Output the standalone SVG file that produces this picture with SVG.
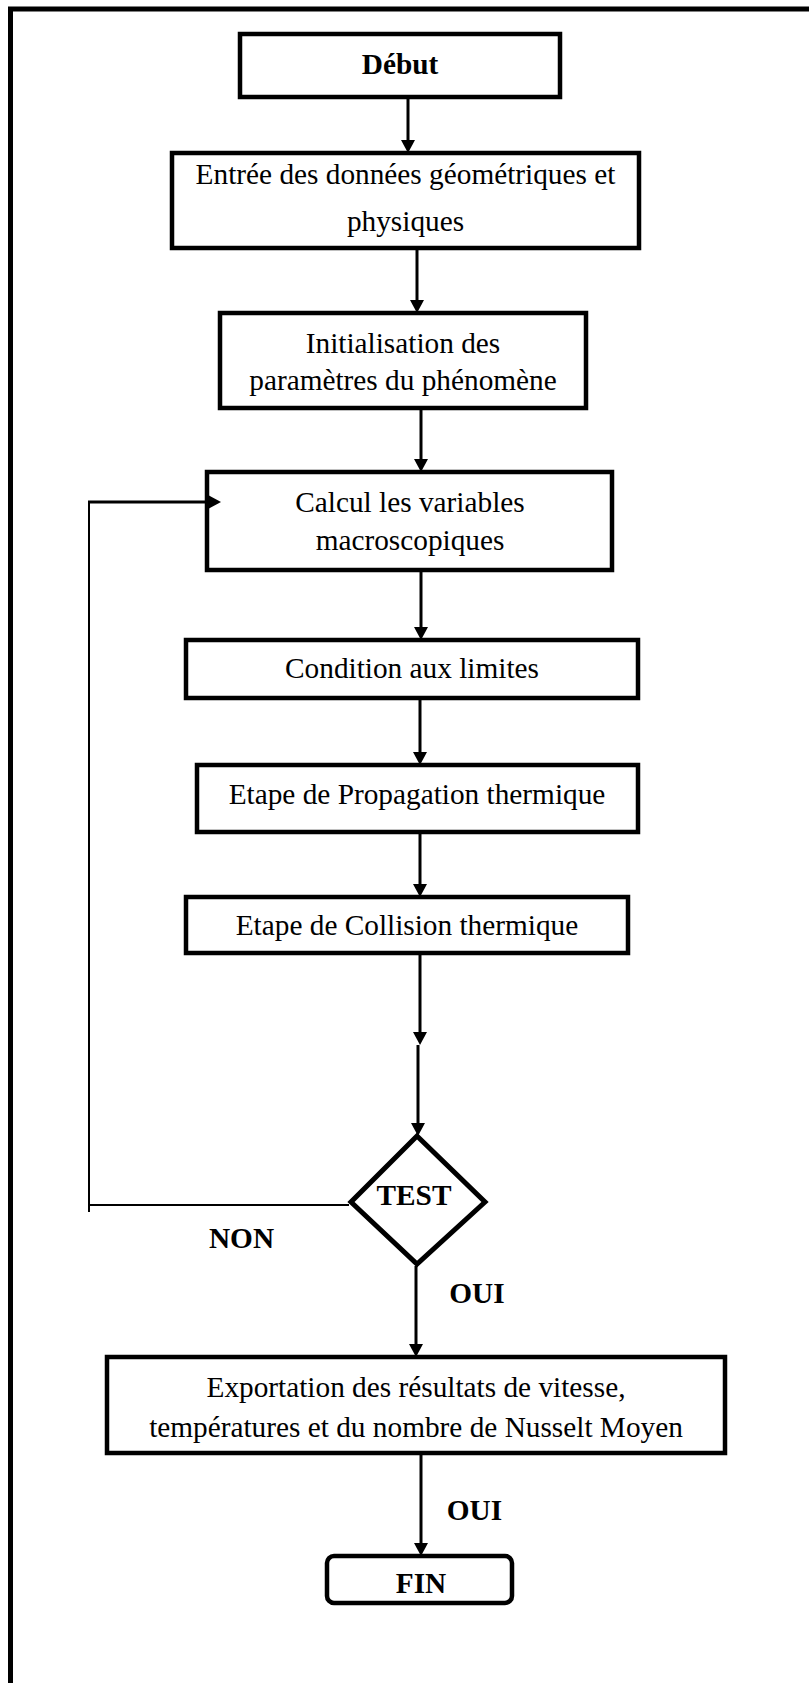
<svg xmlns="http://www.w3.org/2000/svg" width="809" height="1683" viewBox="0 0 809 1683">
<style>
.box{fill:#fff;stroke:#000;stroke-width:4.5}
.t{font-family:"Liberation Serif","Times New Roman",serif;font-size:29.3px;fill:#000;text-anchor:middle}
.b{font-weight:bold}
.ln{fill:none;stroke:#000;stroke-width:3}
.thin{fill:none;stroke:#000;stroke-width:2}
</style>
<defs>
<marker id="ah" viewBox="0 0 13 14" refX="7" refY="7" markerWidth="13" markerHeight="14" markerUnits="userSpaceOnUse" orient="auto">
<path d="M0,0 L13,7 L0,14 z" fill="#000"/>
</marker>
</defs>
<rect width="809" height="1683" fill="#fff"/>
<path d="M10.5,1690 V9 H815" fill="none" stroke="#000" stroke-width="5"/>
<g id="debut">
<rect class="box" x="240" y="34" width="320" height="63"/>
<text class="t b" x="400" y="74">Début</text>
</g>
<g id="entree">
<rect class="box" x="172" y="153" width="467" height="95"/>
<text class="t" x="405.5" y="184">Entrée des données géométriques et</text>
<text class="t" x="405.5" y="231">physiques</text>
</g>
<g id="init">
<rect class="box" x="220" y="313" width="366" height="95"/>
<text class="t" x="403" y="353">Initialisation des</text>
<text class="t" x="403" y="390">paramètres du phénomène</text>
</g>
<g id="calcul">
<rect class="box" x="207" y="472" width="405" height="98"/>
<text class="t" x="410" y="512">Calcul les variables</text>
<text class="t" x="410" y="550">macroscopiques</text>
</g>
<g id="condition">
<rect class="box" x="186" y="640" width="452" height="58"/>
<text class="t" x="412" y="678">Condition aux limites</text>
</g>
<g id="propagation">
<rect class="box" x="197" y="765" width="441" height="67"/>
<text class="t" x="417" y="804">Etape de Propagation thermique</text>
</g>
<g id="collision">
<rect class="box" x="186" y="897" width="442" height="56"/>
<text class="t" x="407" y="935">Etape de Collision thermique</text>
</g>
<g id="test">
<polygon points="417,1136 485,1202 417,1264 351,1202" fill="#fff" stroke="#000" stroke-width="5"/>
<text class="t b" x="414" y="1205">TEST</text>
</g>
<g id="export">
<rect class="box" x="107" y="1357" width="618" height="96"/>
<text class="t" x="416" y="1397">Exportation des résultats de vitesse,</text>
<text class="t" x="416" y="1437">températures et du nombre de Nusselt Moyen</text>
</g>
<g id="fin">
<rect class="box" x="327" y="1556" width="185" height="47" rx="7"/>
<text class="t b" x="421" y="1593">FIN</text>
</g>
<g id="labels">
<text class="t b" x="241.5" y="1248">NON</text>
<text class="t b" x="477" y="1303">OUI</text>
<text class="t b" x="474.5" y="1520">OUI</text>
</g>
<g id="connectors">
<line class="ln" x1="408" y1="99" x2="408" y2="147" marker-end="url(#ah)"/>
<line class="ln" x1="417" y1="250" x2="417" y2="307" marker-end="url(#ah)"/>
<line class="ln" x1="421" y1="410" x2="421" y2="466" marker-end="url(#ah)"/>
<line class="ln" x1="421" y1="572" x2="421" y2="634" marker-end="url(#ah)"/>
<line class="ln" x1="420" y1="700" x2="420" y2="759" marker-end="url(#ah)"/>
<line class="ln" x1="420" y1="834" x2="420" y2="891" marker-end="url(#ah)"/>
<line class="ln" x1="420" y1="955" x2="420" y2="1039" marker-end="url(#ah)"/>
<line class="ln" x1="418" y1="1045" x2="418" y2="1130" marker-end="url(#ah)"/>
<line class="ln" x1="416" y1="1266" x2="416" y2="1351" marker-end="url(#ah)"/>
<line class="ln" x1="421" y1="1455" x2="421" y2="1550" marker-end="url(#ah)"/>
<line class="thin" x1="89" y1="1212" x2="89" y2="502"/>
<line class="thin" x1="349" y1="1205" x2="89" y2="1205" stroke-width="1.5"/>
<line class="ln" x1="88" y1="502" x2="215" y2="502" stroke-width="2.5" marker-end="url(#ah)"/>
</g>
</svg>
